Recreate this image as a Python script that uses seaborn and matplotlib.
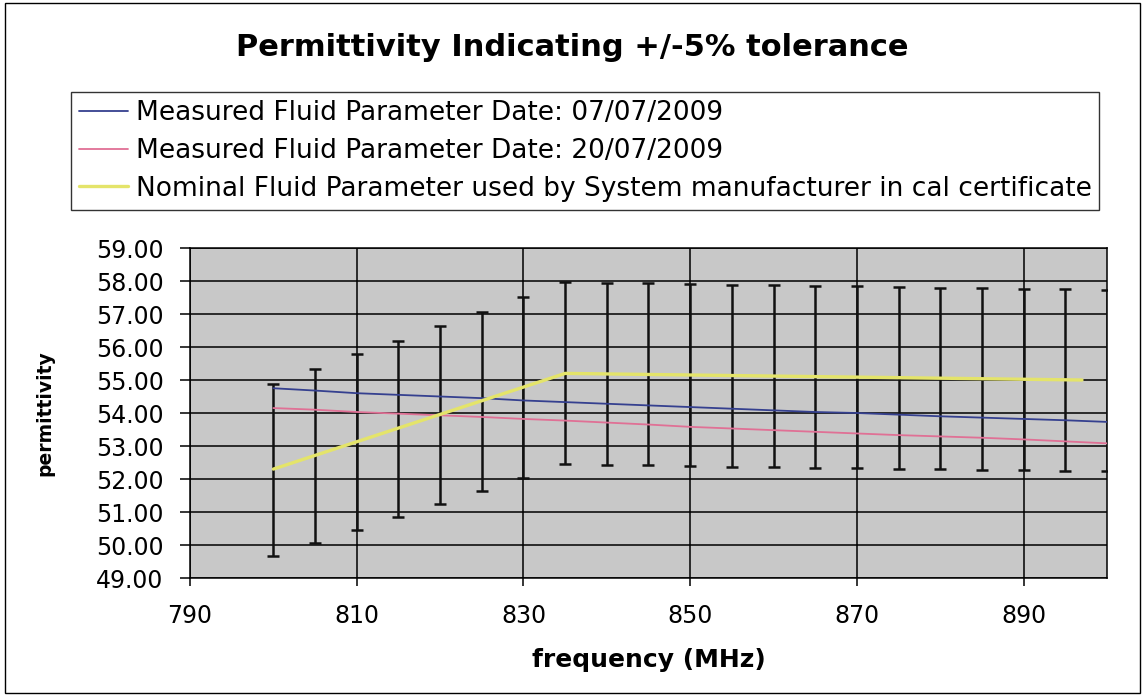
# Permittivity vs frequency with +/-5% tolerance bars

import numpy as np
import pandas as pd
import matplotlib
matplotlib.use("Agg")
import matplotlib.pyplot as plt
import seaborn as sns
from matplotlib.patches import Rectangle

# -------------------------
# Data
# -------------------------
freq = [800, 805, 810, 815, 820, 825, 830, 835, 840, 845, 850,
        855, 860, 865, 870, 875, 880, 885, 890, 895, 900]

meas_0707 = [54.75, 54.68, 54.60, 54.55, 54.50, 54.45, 54.38, 54.33, 54.28, 54.23, 54.18,
             54.13, 54.08, 54.03, 54.00, 53.95, 53.90, 53.86, 53.82, 53.78, 53.73]

meas_2007 = [54.15, 54.10, 54.03, 53.98, 53.93, 53.88, 53.82, 53.77, 53.71, 53.65, 53.58,
             53.53, 53.48, 53.43, 53.38, 53.33, 53.29, 53.25, 53.20, 53.14, 53.08]

# centre of each tolerance bar (nominal value at that frequency)
bar_centre = [52.27, 52.70, 53.12, 53.52, 53.95, 54.35, 54.78, 55.20, 55.18, 55.17, 55.15,
              55.13, 55.12, 55.10, 55.08, 55.07, 55.05, 55.03, 55.02, 55.00, 54.98]
tolerance = 0.05

nominal_freq = [800, 835, 897]
nominal_eps = [52.30, 55.20, 55.00]

labels = ["Measured Fluid Parameter Date: 07/07/2009",
          "Measured Fluid Parameter Date: 20/07/2009",
          "Nominal Fluid Parameter used by System manufacturer in cal certificate"]
colors = ["#35408f", "#e07095", "#e4e46a"]
widths = [1.3, 1.3, 2.4]

df = pd.concat([
    pd.DataFrame({"freq": freq, "eps": meas_0707, "series": labels[0]}),
    pd.DataFrame({"freq": freq, "eps": meas_2007, "series": labels[1]}),
    pd.DataFrame({"freq": nominal_freq, "eps": nominal_eps, "series": labels[2]}),
])

# -------------------------
# Figure
# -------------------------
sns.set_style("white")
plt.rcParams["font.family"] = ["DejaVu Sans"]
plt.rcParams["text.color"] = "black"
plt.rcParams["axes.labelcolor"] = "black"
plt.rcParams["xtick.color"] = "black"
plt.rcParams["ytick.color"] = "black"

W, H = 1145, 697
fig = plt.figure(figsize=(W / 100, H / 100), dpi=100)
ax = fig.add_axes([190 / W, 1 - 578 / H, 917 / W, 330 / H])
ax.set_facecolor("#c8c8c8")

# grid
ax.set_xlim(790, 900)
ax.set_ylim(49, 59)
ax.set_xticks(np.arange(790, 901, 20))
ax.set_yticks(np.arange(49, 59.01, 1))
ax.grid(True, color="black", linewidth=1.1)
ax.set_axisbelow(True)

# tolerance bars
centre = np.array(bar_centre)
ax.errorbar(freq, centre, yerr=centre * tolerance, fmt="none", ecolor="#111111",
            elinewidth=1.8, capsize=4.5, capthick=1.8, zorder=3)

sns.lineplot(data=df, x="freq", y="eps", hue="series", palette=colors,
             ax=ax, legend=False, zorder=4)
for line, lw in zip(ax.lines[-3:], widths):
    line.set_linewidth(lw)

# ticks / labels
ax.yaxis.set_major_formatter(matplotlib.ticker.FormatStrFormatter("%.2f"))
ax.tick_params(axis="both", direction="out", width=1.1, labelsize=17,
               left=True, bottom=True)
ax.tick_params(axis="y", length=7, pad=12)
ax.tick_params(axis="x", length=6, pad=13)
for s in ax.spines.values():
    s.set_color("black")
    s.set_linewidth(1.1)
ax.set_xlabel("frequency (MHz)", fontsize=18, fontweight="bold", labelpad=14)
ax.set_ylabel("permittivity", fontsize=13.5, fontweight="bold")
ax.yaxis.set_label_coords(-0.158, 0.5)
ax.yaxis.label.set_va("center")

fig.text(0.5, 1 - 47 / H, "Permittivity Indicating +/-5% tolerance",
         ha="center", va="center", fontsize=22, fontweight="bold")

# legend
handles = [plt.Line2D([], [], color=c, lw=lw) for c, lw in zip(colors, widths)]
leg = fig.legend(handles, labels, loc="upper left", bbox_to_anchor=(71 / W, 1 - 92 / H),
                 fontsize=19, frameon=True, fancybox=False, edgecolor="black",
                 handlelength=1.85, handletextpad=0.3, borderpad=0.3, labelspacing=0.45,
                 borderaxespad=0)
leg.get_frame().set_linewidth(1.0)

# outer chart border
fig.patches.append(Rectangle((5 / W, 4 / H), 1135 / W, 690 / H, transform=fig.transFigure,
                             fill=False, edgecolor="black", linewidth=1.0))

fig.savefig("out.png", dpi=100)
